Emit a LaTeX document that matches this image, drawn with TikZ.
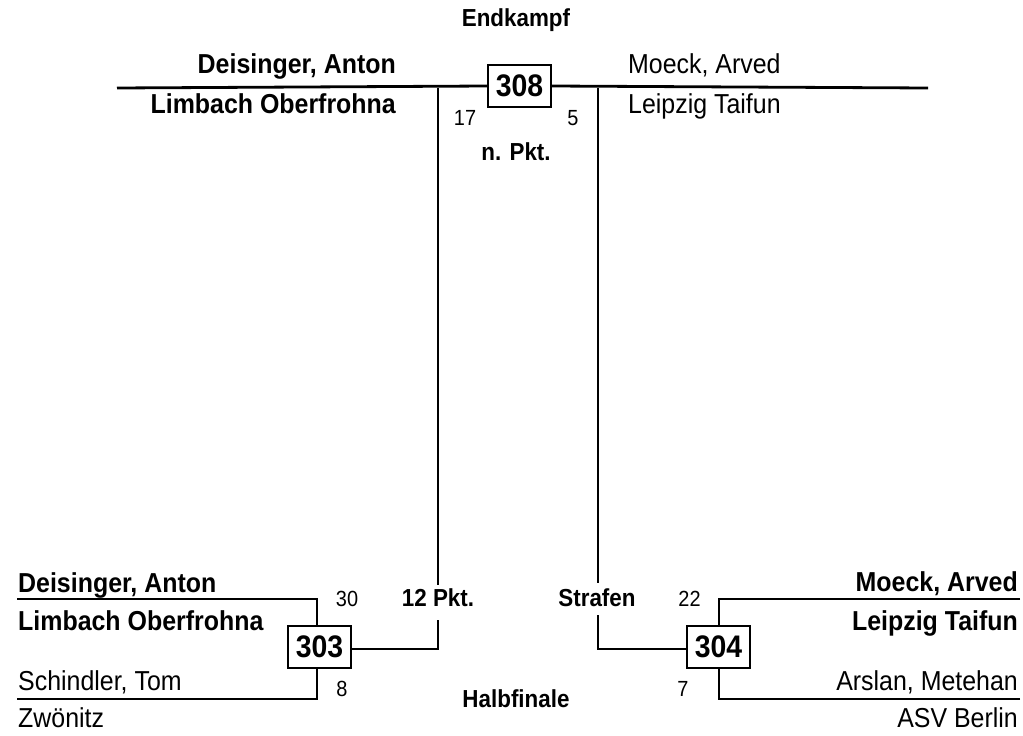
\documentclass[tikz,border=0pt]{standalone}
\usepackage{fontspec}
\setmainfont{Liberation Sans}[FakeStretch=0.91]
\begin{document}
\begin{tikzpicture}[x=1bp,y=-1bp,
  bline/.style={line width=2.8bp},
  boxnum/.style={draw,line width=1.1bp,fill=white,minimum width=63bp,minimum height=42bp,inner sep=0pt,font=\bfseries\fontsize{31.3}{34}\selectfont},
  pname/.style={inner sep=0pt,font=\fontsize{27.5}{31}\selectfont},
  bname/.style={inner sep=0pt,font=\bfseries\fontsize{27.5}{31}\selectfont},
  score/.style={inner sep=0pt,anchor=base,font=\fontsize{22}{26}\selectfont},
  lbl/.style={inner sep=0pt,anchor=base,font=\bfseries\fontsize{24.7}{28}\selectfont}]
\useasboundingbox (0,0) rectangle (1023,736);
% final
\node[lbl] (endkampf) at (516,27) {Endkampf};
\coordinate (topL) at (117,88);
\coordinate (topR) at (928,88);
\coordinate (vL) at (438,88);
\coordinate (vR) at (598,88);
\node[boxnum] (b308) at (519.5,86) {308};
\draw[bline] (topL) -- (b308.west);
\draw[bline] (b308.east) -- (topR);
\node[bname,anchor=base east] (fa1) at (396,74) {Deisinger, Anton};
\node[bname,anchor=base east] (fa2) at (396,113) {Limbach Oberfrohna};
\node[pname,anchor=base west] (fb1) at (628,74) {Moeck, Arved};
\node[pname,anchor=base west] (fb2) at (628,113) {Leipzig Taifun};
\node[score] (s17) at (465,125) {17};
\node[score] (s5) at (573,125) {5};
\node[lbl] (npkt) at (516,160) {n. Pkt.};
% semifinal 303
\node[boxnum] (b303) at (319.5,647) {303};
\coordinate (l303t) at (17,599);
\coordinate (c303t) at (317,599);
\coordinate (l303b) at (17,699);
\coordinate (c303b) at (317,699);
\draw[bline] (l303t) -- (c303t) -- (c303t |- b303.north);
\draw[bline] (l303b) -- (c303b) -- (c303b |- b303.south);
\node[lbl] (p12) at (438,606) {12 Pkt.};
\coordinate (j303) at (438,649);
\coordinate (g303a) at (438,585);
\coordinate (g303b) at (438,620);
\draw[bline] (vL) -- (g303a);
\draw[bline] (g303b) -- (j303) -- (b303.east |- j303);
\node[bname,anchor=base west] (h1a) at (18,592) {Deisinger, Anton};
\node[bname,anchor=base west] (h1b) at (18,630) {Limbach Oberfrohna};
\node[pname,anchor=base west] (h1c) at (18,690) {Schindler, Tom};
\node[pname,anchor=base west] (h1d) at (18,727) {Zwönitz};
\node[score] (s30) at (347,606) {30};
\node[score] (s8) at (342,696) {8};
% semifinal 304
\node[boxnum] (b304) at (718.5,647) {304};
\coordinate (r304t) at (1020,599);
\coordinate (c304t) at (719,599);
\coordinate (r304b) at (1020,699);
\coordinate (c304b) at (719,699);
\draw[bline] (r304t) -- (c304t) -- (c304t |- b304.north);
\draw[bline] (r304b) -- (c304b) -- (c304b |- b304.south);
\node[lbl] (straf) at (597,606) {Strafen};
\coordinate (j304) at (598,649);
\coordinate (g304a) at (598,583);
\coordinate (g304b) at (598,615);
\draw[bline] (vR) -- (g304a);
\draw[bline] (g304b) -- (j304) -- (b304.west |- j304);
\node[bname,anchor=base east] (h2a) at (1018,591) {Moeck, Arved};
\node[bname,anchor=base east] (h2b) at (1018,630) {Leipzig Taifun};
\node[pname,anchor=base east] (h2c) at (1018,690) {Arslan, Metehan};
\node[pname,anchor=base east] (h2d) at (1018,727) {ASV Berlin};
\node[score] (s22) at (689.5,606) {22};
\node[score] (s7) at (683,696) {7};
\node[lbl] (halb) at (516,707) {Halbfinale};
\end{tikzpicture}
\end{document}
